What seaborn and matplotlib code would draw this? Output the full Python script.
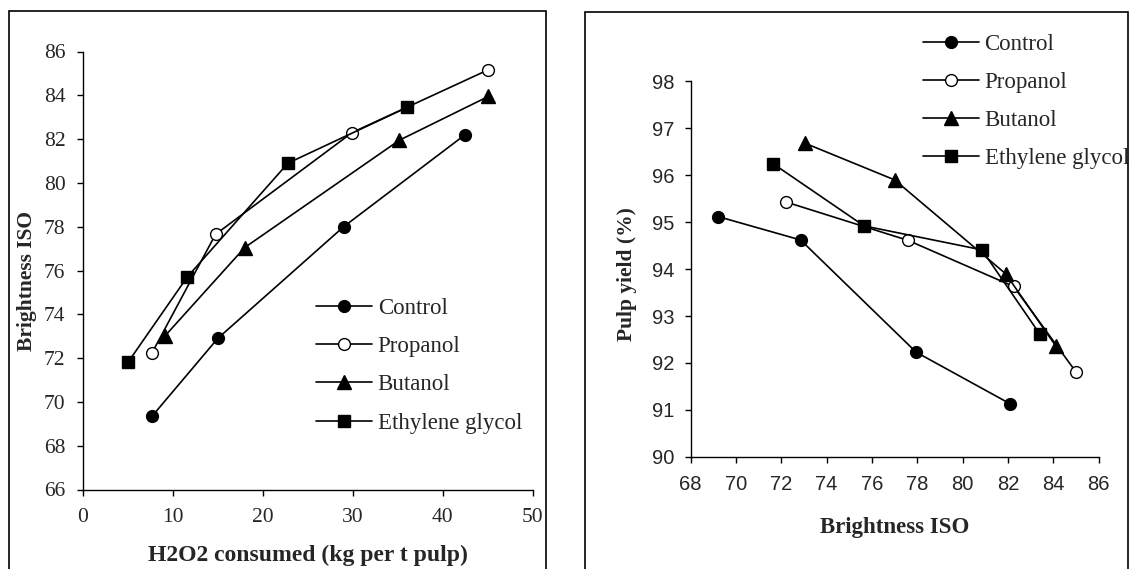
import matplotlib
matplotlib.use("Agg")
import matplotlib.pyplot as plt
from matplotlib.patches import Rectangle
import seaborn as sns
import pandas as pd

# ---- data (left panel: brightness vs H2O2 consumed) ----
series_names = ["Control", "Propanol", "Butanol", "Ethylene glycol"]

h2o2_control = [7.7, 15.0, 29.0, 42.5]
bright_control = [69.35, 72.9, 78.0, 82.2]
h2o2_propanol = [7.7, 14.75, 29.95, 45.0]
bright_propanol = [72.25, 77.65, 82.3, 85.15]
h2o2_butanol = [9.1, 18.0, 35.2, 45.1]
bright_butanol = [73.0, 77.05, 81.95, 83.95]
h2o2_glycol = [5.0, 11.6, 22.8, 36.05]
bright_glycol = [71.8, 75.7, 80.9, 83.45]

# ---- data (right panel: pulp yield vs brightness) ----
bx_control = [69.2, 72.85, 77.95, 82.1]
yield_control = [95.12, 94.62, 92.23, 91.13]
bx_propanol = [72.2, 77.6, 82.25, 85.0]
yield_propanol = [95.43, 94.61, 93.63, 91.81]
bx_butanol = [73.05, 77.0, 81.9, 84.1]
yield_butanol = [96.68, 95.9, 93.9, 92.37]
bx_glycol = [71.65, 75.65, 80.85, 83.4]
yield_glycol = [96.24, 94.92, 94.41, 92.62]

left_x = [h2o2_control, h2o2_propanol, h2o2_butanol, h2o2_glycol]
left_y = [bright_control, bright_propanol, bright_butanol, bright_glycol]
right_x = [bx_control, bx_propanol, bx_butanol, bx_glycol]
right_y = [yield_control, yield_propanol, yield_butanol, yield_glycol]

left_xticks = [0, 10, 20, 30, 40, 50]
left_yticks = [66, 68, 70, 72, 74, 76, 78, 80, 82, 84, 86]
right_xticks = [68, 70, 72, 74, 76, 78, 80, 82, 84, 86]
right_yticks = [90, 91, 92, 93, 94, 95, 96, 97, 98]

markers = ["o", "o", "^", "s"]
faces = ["black", "white", "black", "black"]
msizes = [8.5, 8.5, 9.5, 8.0]

sns.set_style("ticks")
SERIF = ["Liberation Serif", "DejaVu Serif"]
SANS = ["Liberation Sans", "DejaVu Sans"]
plt.rcParams["font.family"] = SERIF

fig = plt.figure(figsize=(11.3, 5.69), dpi=100)
W, H = 1130.0, 569.0

def px_axes(l, r, t, b):
    return fig.add_axes([l / W, 1 - b / H, (r - l) / W, (b - t) / H])

axL = px_axes(82.9, 532.5, 51.5, 489.5)
axR = px_axes(690.7, 1098.6, 81.3, 456.9)

def draw(ax, xs_list, ys_list):
    for name, xs, ys, m, fc, ms in zip(series_names, xs_list, ys_list, markers, faces, msizes):
        df = pd.DataFrame({"x": xs, "y": ys})
        sns.lineplot(data=df, x="x", y="y", ax=ax, color="black", lw=1.2,
                     marker=m, markersize=ms,
                     markerfacecolor=fc, markeredgecolor="black",
                     markeredgewidth=1.0, label=name, sort=False)

draw(axL, left_x, left_y)
draw(axR, right_x, right_y)

for ax in (axL, axR):
    sns.despine(ax=ax)
    for s in ("left", "bottom"):
        ax.spines[s].set_linewidth(1.0)
        ax.spines[s].set_color("black")
    ax.tick_params(direction="out", length=4.2, width=1.0, color="black")

# left axes
axL.set_xlim(0, 50)
axL.set_ylim(66, 86)
axL.set_xticks(left_xticks)
axL.set_yticks(left_yticks)
axL.set_xticklabels([str(t) for t in left_xticks], fontsize=15.5, family=SERIF)
axL.set_yticklabels([str(t) for t in left_yticks], fontsize=15.5, family=SERIF)
axL.tick_params(axis="x", pad=9.1)
axL.tick_params(axis="y", pad=8.4)
axL.set_xlabel("H2O2 consumed (kg per t pulp)", fontsize=17, fontweight="bold", family=SERIF)
axL.set_ylabel("Brightness ISO", fontsize=15.5, fontweight="bold", family=SERIF)
axL.xaxis.set_label_coords(0.5, -0.150)
axL.xaxis.label.set_va("center")
axL.yaxis.set_label_coords(-0.1248, 0.477)
axL.yaxis.label.set_va("center")

# right axes
axR.set_xlim(68, 86)
axR.set_ylim(90, 98)
axR.set_xticks(right_xticks)
axR.set_yticks(right_yticks)
axR.set_xticklabels([str(t) for t in right_xticks], fontsize=14.5, family=SANS)
axR.set_yticklabels([str(t) for t in right_yticks], fontsize=14.5, family=SANS)
axR.tick_params(axis="x", pad=9.1)
axR.tick_params(axis="y", pad=7.6)
axR.set_xlabel("Brightness ISO", fontsize=16.5, fontweight="bold", family=SERIF)
axR.set_ylabel("Pulp yield (%)", fontsize=15.5, fontweight="bold", family=SERIF)
axR.xaxis.set_label_coords(0.5, -0.189)
axR.xaxis.label.set_va("center")
axR.yaxis.set_label_coords(-0.1562, 0.487)
axR.yaxis.label.set_va("center")

legkw = dict(frameon=False, handlelength=2.45, handletextpad=0.24,
             labelspacing=0.75, borderpad=0, borderaxespad=0, loc="upper left",
             bbox_transform=fig.transFigure, prop={"family": SERIF, "size": 16.5})
axL.legend(bbox_to_anchor=(316 / W, 1 - 298 / H), **legkw)
axR.legend(bbox_to_anchor=(922.9 / W, 1 - 33.5 / H), **legkw)

# outer frames around each panel
fig.add_artist(Rectangle((9 / W, -0.05), (546.4 - 9) / W, 1.05 - 10.9 / H,
                         transform=fig.transFigure, fill=False, lw=1.2, ec="black"))
fig.add_artist(Rectangle((585 / W, -0.05), (1128 - 585) / W, 1.05 - 11.5 / H,
                         transform=fig.transFigure, fill=False, lw=1.2, ec="black"))

fig.savefig("out.png", dpi=100)
